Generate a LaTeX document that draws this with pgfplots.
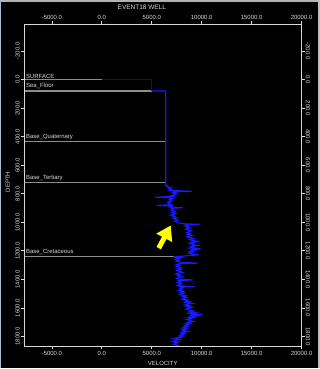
\documentclass[border=0pt]{standalone}
\usepackage{pgfplots}
\pgfplotsset{compat=1.18}
\usepackage{fontspec}
\setmainfont{Liberation Sans}
\usetikzlibrary{arrows.meta}
\definecolor{fg}{HTML}{D8D8D8}
\definecolor{hz}{HTML}{8E8E8E}
\definecolor{vel}{RGB}{25,25,255}
\definecolor{water}{RGB}{10,10,150}
\definecolor{arrowy}{RGB}{255,255,0}
\definecolor{edge}{HTML}{A8B8D0}

\pgfplotsset{common/.style={
  at={(24bp,22bp)}, anchor=south west, scale only axis,
  width=278bp, height=323bp,
  xmin=-7800, xmax=20000, ymin=-390, ymax=1870, y dir=reverse,
  xtick={-5000,0,5000,10000,15000,20000},
  ytick={-200,0,200,400,600,800,1000,1200,1400,1600,1800},
  scaled ticks=false,
  axis line style={fg, line width=0.9bp},
  tick style={fg, line width=0.8bp},
  major tick length=3bp, tick align=outside, tick pos=both,
  ticklabel style={font=\fontsize{6}{7}\selectfont, color=fg, inner sep=1bp},
  /pgf/number format/fixed, /pgf/number format/fixed zerofill,
  /pgf/number format/precision=1, /pgf/number format/1000 sep={},
  /pgf/number format/assume math mode=true,
}}

\begin{document}
\begin{tikzpicture}[x=1bp,y=1bp]
\fill[black] (0,0) rectangle (320,369);
\fill[gray!60] (0,366.5) rectangle (320,369);
\fill[edge] (0,0) rectangle (1.5,369);
\fill[gray!50] (318.8,0) rectangle (320,369);

\begin{axis}[common,
  xticklabel pos=bottom, yticklabel pos=left,
  yticklabel style={rotate=90, anchor=south},
  xticklabel style={yshift=-1bp},
  xlabel={VELOCITY}, ylabel={DEPTH},
  label style={font=\fontsize{6}{7}\selectfont, color=fg},
  xlabel style={at={(axis description cs:0.5,-0.053)}, anchor=center},
  ylabel style={at={(axis description cs:-0.058,0.51)}, anchor=center, rotate=0},
  clip=false]
% horizons
\addplot[hz, line width=1.1bp] coordinates {(-7800,0) (0,0)};
\addplot[hz, line width=1.1bp] coordinates {(-7800,80) (5000,80)};
\addplot[hz, line width=1.1bp] coordinates {(-7800,436) (6400,436)};
\addplot[hz, line width=1.1bp] coordinates {(-7800,723) (6400,723)};
\addplot[hz, line width=1.1bp] coordinates {(-7800,1242) (7200,1242)};
% water
\addplot[water, line width=0.8bp] coordinates {(0,0) (5000,0) (5000,80)};
% velocity log
\addplot[vel, line width=1.1bp] coordinates {
(5000,80) (6400,80) (6400,740)
(6600,745) (6500,750) (6900,757) (6700,763) (7000,770) (6800,776) (9000,782) (7300,785)
(7100,790) (7500,796) (7200,800) (7400,806) (7000,812) (7200,818) (5300,824) (6900,828)
(7100,833) (6800,840) (7000,846) (6700,852) (6900,858) (6600,864) (6800,870) (7000,876)
(5500,882) (7000,886) (6800,892) (8100,898) (7000,902) (7200,908) (6900,914) (7100,920)
(7300,926) (7000,932) (7400,938) (7200,944) (6900,950) (7300,956) (7100,962) (7500,968)
(7200,974) (7400,980) (7600,986) (7300,992) (7500,998) (7700,1004) (8200,1010) (9800,1014)
(8500,1018) (8300,1024) (8700,1030) (8500,1036) (8800,1042) (8400,1048) (8600,1054) (9000,1060)
(8700,1066) (8500,1072) (8800,1078) (8600,1084) (9100,1090) (8800,1096) (8500,1102) (8900,1108)
(9200,1114) (8800,1120) (9000,1126) (9600,1132) (8900,1138) (9300,1144) (8800,1150) (9100,1156)
(9500,1162) (8900,1168) (9200,1174) (8800,1180) (9900,1186) (9000,1192) (9300,1198) (8800,1204)
(9100,1210) (8700,1216) (9000,1222) (9700,1228) (8600,1234) (7200,1242) (7900,1246) (7500,1250)
(7800,1256) (7400,1262) (7700,1268) (7500,1274) (7900,1280) (9600,1286) (7800,1290) (7500,1296)
(7800,1302) (7400,1308) (7700,1314) (8000,1320) (7600,1326) (7900,1332) (7500,1338) (7800,1344)
(8100,1350) (7600,1356) (7400,1362) (7800,1368) (7600,1374) (8000,1380) (7700,1386) (7500,1392)
(7900,1398) (9100,1404) (7700,1408) (7900,1414) (7600,1420) (8000,1426) (7700,1432) (7900,1438)
(7600,1444) (9300,1450) (7900,1454) (8100,1460) (7800,1466) (8000,1472) (7700,1478) (8200,1484)
(7900,1490) (8300,1496) (8000,1502) (7800,1508) (8400,1514) (8100,1520) (8500,1526) (8200,1532)
(8000,1538) (8600,1544) (8300,1550) (8800,1556) (8400,1562) (9100,1568) (8600,1574) (8300,1580)
(8900,1586) (8500,1592) (9000,1598) (8600,1604) (8400,1610) (8800,1616) (9200,1622) (8700,1628)
(9400,1634) (8800,1640) (10100,1646) (8900,1650) (9800,1654) (8700,1658) (9300,1664) (8600,1670)
(9000,1676) (8500,1682) (8800,1688) (9200,1694) (8600,1700) (8900,1706) (8400,1712) (8700,1718)
(8300,1724) (8600,1730) (8200,1736) (8500,1742) (8000,1748) (8400,1754) (8100,1760) (8600,1766)
(8000,1772) (8300,1778) (7900,1784) (8200,1790) (7800,1796) (8100,1802) (7600,1808) (7200,1814)
(7800,1820) (7400,1826) (7100,1832) (7700,1838) (7300,1844) (7500,1850) (7200,1856) (7600,1862)
(7400,1866)
};
% horizon labels
\begin{scope}[every node/.style={font=\fontsize{6}{7}\selectfont, color=fg, inner sep=0pt, anchor=base west}]
\node at (axis cs:-7600,-7) {SURFACE};
\node at (axis cs:-7600,56) {Sea\_Floor};
\node at (axis cs:-7600,412) {Base\_Quaternary};
\node at (axis cs:-7600,699) {Base\_Tertiary};
\node at (axis cs:-7600,1218) {Base\_Cretaceous};
\end{scope}
% annotation arrow
\draw[arrowy, line width=5bp, -{Triangle[width=17bp,length=14bp]}] (axis cs:5700,1181) -- (axis cs:6900,1022);
\end{axis}

\begin{axis}[common,
  xticklabel pos=top, yticklabel pos=right,
  yticklabel style={rotate=-90, anchor=south}]
\end{axis}

\node[font=\fontsize{6.5}{7}\selectfont, color=fg] at (142,362) {EVENT18 WELL};
\end{tikzpicture}
\end{document}
